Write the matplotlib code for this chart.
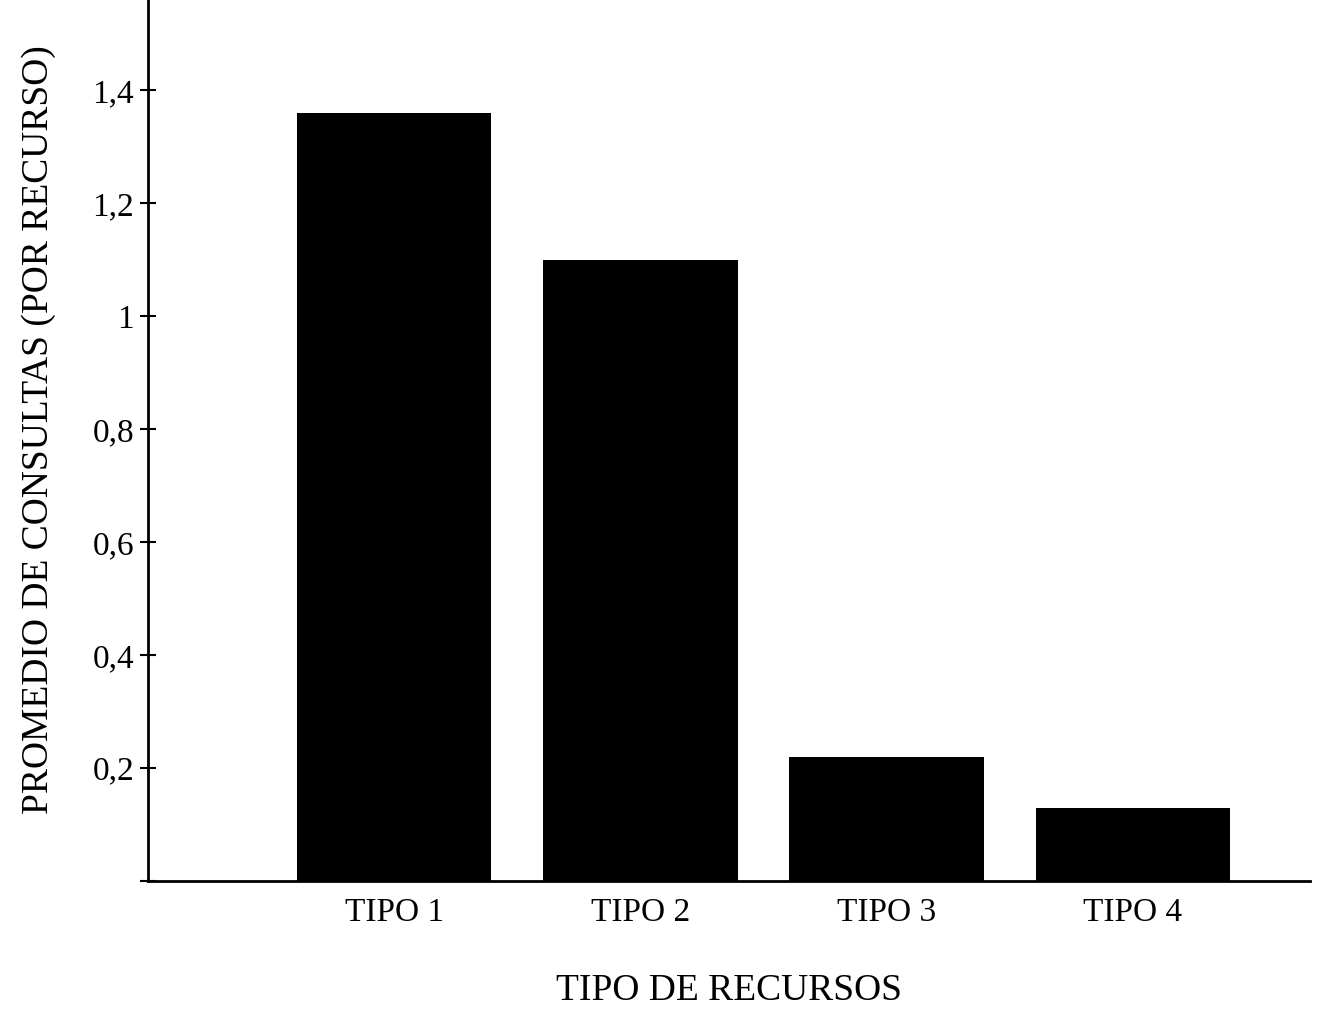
import matplotlib
matplotlib.use("Agg")
import matplotlib.pyplot as plt
from matplotlib.ticker import FixedLocator, FuncFormatter

categories = ["TIPO 1", "TIPO 2", "TIPO 3", "TIPO 4"]
values = [1.36, 1.10, 0.22, 0.13]
yticks = [0.0, 0.2, 0.4, 0.6, 0.8, 1.0, 1.2, 1.4]

plt.rcParams['font.family'] = ['Liberation Serif', 'DejaVu Serif']


def fmt(v, p):
    if v == 0:
        return ""
    return ("%g" % v).replace(".", ",")


fig = plt.figure(figsize=(13.25, 10.22), dpi=100)
ax = fig.add_axes([0.1117, 0.138, 0.877, 0.862])

pos = list(range(1, len(categories) + 1))
ax.bar(pos, values, width=0.79, color="black")

ax.set_xlim(0, 4.72)
ax.set_ylim(0, 1.56)
ax.set_xticks(pos)
ax.set_xticklabels(categories, fontsize=24)
ax.tick_params(axis="x", length=0, pad=12)

ax.yaxis.set_major_locator(FixedLocator(yticks))
ax.yaxis.set_major_formatter(FuncFormatter(fmt))
ax.tick_params(axis="y", direction="inout", length=12, width=1.5, labelsize=24, pad=4)

for s in ["top", "right"]:
    ax.spines[s].set_visible(False)
ax.spines["left"].set_linewidth(2)
ax.spines["bottom"].set_linewidth(2)

ax.set_xlabel("TIPO DE RECURSOS", fontsize=27, labelpad=33)
ax.set_ylabel("PROMEDIO DE CONSULTAS (POR RECURSO)", fontsize=27)
ax.yaxis.set_label_coords(-0.079, 0.512)

fig.savefig("out.png", dpi=100)
